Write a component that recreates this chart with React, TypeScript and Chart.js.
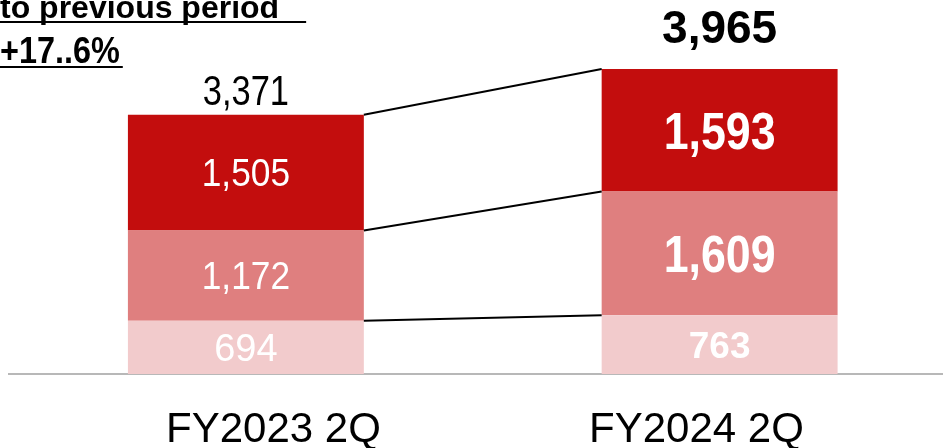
import React, { useEffect, useRef } from "react";
import { Chart, registerables } from "chart.js";

Chart.register(...registerables);

const categories = ["FY2023 2Q", "FY2024 2Q"];
const seriesBottom = [694, 763];
const seriesMiddle = [1172, 1609];
const seriesTop = [1505, 1593];
const totals = [3371, 3965];
const headerLine1 = "to previous period";
const headerLine2 = "+17..6%";

const COLORS = ["#F2CBCC", "#DF7F7F", "#C30D0D"];
const SANS = "'Liberation Sans', Arial, sans-serif";

// label styles per bar index: [font size, weight, horizontal squeeze]
const SEG_STYLE: Record<string, [number, string, number]> = {
  "0-0": [38, "normal", 1],
  "0-1": [38, "normal", 0.93],
  "0-2": [38, "normal", 0.93],
  "1-0": [37, "bold", 1],
  "1-1": [52, "bold", 0.86],
  "1-2": [52, "bold", 0.86],
};
const TOTAL_STYLE: [number, string, number, number][] = [
  [42, "normal", 0.82, 10],
  [46, "bold", 1, 26],
];

function fmt(v: number) {
  return v.toLocaleString("en-US");
}

function drawText(ctx: any, text: string, x: number, y: number, size: number, weight: string, sx: number, align: string) {
  ctx.save();
  ctx.font = `${weight} ${size}px ${SANS}`;
  ctx.textAlign = align;
  ctx.textBaseline = "alphabetic";
  ctx.translate(x, y);
  ctx.scale(sx, 1);
  ctx.fillText(text, 0, 0);
  const w = ctx.measureText(text).width * sx;
  ctx.restore();
  return w;
}

const overlayPlugin = {
  id: "overlay",
  afterDatasetsDraw(chart: any) {
    const ctx = chart.ctx;
    const metas = [0, 1, 2].map((i) => chart.getDatasetMeta(i));
    ctx.save();
    // connector lines
    ctx.strokeStyle = "#000";
    ctx.lineWidth = 2;
    metas.forEach((meta: any) => {
      const a = meta.data[0];
      const b = meta.data[1];
      ctx.beginPath();
      ctx.moveTo(a.x + a.width / 2, a.y);
      ctx.lineTo(b.x - b.width / 2, b.y);
      ctx.stroke();
    });
    // value labels
    ctx.fillStyle = "#fff";
    metas.forEach((meta: any, di: number) => {
      const data = chart.data.datasets[di].data;
      meta.data.forEach((el: any, i: number) => {
        const [size, weight, sx] = SEG_STYLE[`${i}-${di}`];
        const cy = (el.y + el.base) / 2;
        drawText(ctx, fmt(data[i]), el.x, cy + size * 0.358, size, weight, sx, "center");
      });
    });
    // totals
    ctx.fillStyle = "#000";
    metas[2].data.forEach((el: any, i: number) => {
      const [size, weight, sx, gap] = TOTAL_STYLE[i];
      drawText(ctx, fmt(totals[i]), el.x, el.y - gap, size, weight, sx, "center");
    });
    // header text
    const w1 = drawText(ctx, headerLine1, 0, 18, 32, "bold", 1, "left");
    ctx.fillRect(0, 21, w1 + 27, 2);
    const w2 = drawText(ctx, headerLine2, 0, 63, 36, "bold", 0.9, "left");
    ctx.fillRect(0, 66, w2 + 3, 2);
    ctx.restore();
  },
};

export default function App() {
  const ref = useRef<HTMLCanvasElement | null>(null);
  useEffect(() => {
    document.body.style.margin = "0";
    const canvas = ref.current!;
    const chart = new Chart(canvas, {
      type: "bar",
      data: {
        labels: categories,
        datasets: [
          { data: seriesBottom, backgroundColor: COLORS[0] },
          { data: seriesMiddle, backgroundColor: COLORS[1] },
          { data: seriesTop, backgroundColor: COLORS[2] },
        ],
      },
      options: {
        responsive: false,
        animation: false,
        devicePixelRatio: 1,
        layout: { padding: { left: 9, right: 3.5, top: 66.4, bottom: 0 } },
        plugins: { legend: { display: false }, tooltip: { enabled: false } },
        datasets: { bar: { categoryPercentage: 0.5, barPercentage: 0.996, borderWidth: 0 } },
        scales: {
          x: {
            stacked: true,
            grid: { display: false },
            border: { display: true, color: "#B8B8B8", width: 2 },
            ticks: { display: false },
            afterFit: (scale: any) => {
              scale.height = 0;
            },
          },
          xl: {
            type: "linear",
            position: "bottom",
            offset: false,
            min: -0.6253,
            max: 1.6147,
            grid: { display: false, offset: false },
            border: { display: false },
            afterBuildTicks: (scale: any) => {
              scale.ticks = categories.map((_, i) => ({ value: i }));
            },
            ticks: {
              color: "#000",
              font: { family: SANS, size: 42 },
              padding: 23,
              autoSkip: false,
              maxRotation: 0,
              callback: (v: any) => categories[v as number] ?? "",
            },
            afterFit: (scale: any) => {
              scale.height = 74;
            },
          },
          y: { stacked: true, display: false, min: 0, max: 4000 },
        },
      },
      plugins: [overlayPlugin],
    });
    return () => chart.destroy();
  }, []);
  return (
    <div style={{ position: "absolute", left: 0, top: 0, width: 943, height: 448, overflow: "hidden", background: "#fff" }}>
      <canvas ref={ref} width={960} height={448} style={{ width: 960, height: 448, display: "block" }} />
    </div>
  );
}
